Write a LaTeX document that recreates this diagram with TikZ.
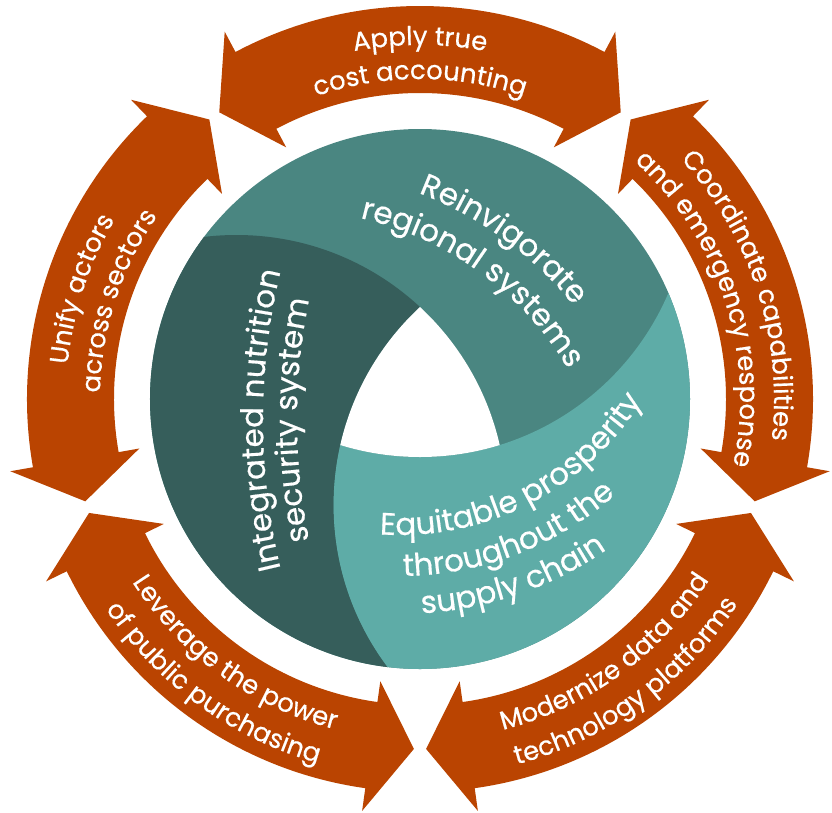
\documentclass[tikz,border=0pt]{standalone}
\usepackage{fontspec}
\setmainfont{Poppins}[FakeBold=0.5]
\usetikzlibrary{decorations.text}
\definecolor{rust}{HTML}{BA4401}
\definecolor{tdark}{HTML}{365E5B}
\definecolor{tmid}{HTML}{4A8681}
\definecolor{tlight}{HTML}{5EACA7}

\newcommand\ringarrow[1]{%
  \fill[rust] (#1+35:350) -- (#1+28:416) -- (#1+28:393)
    arc[start angle=#1+28, end angle=#1-28, radius=393]
    -- (#1-28:416) -- (#1-35:350) -- (#1-28:285) -- (#1-28:306)
    arc[start angle=#1-28, end angle=#1+28, radius=306]
    -- (#1+28:285) -- cycle;
}
% cx, cy, radius, start angle, end angle, font size, text
\newcommand\curvetext[7]{%
  \path[decorate,decoration={text along path,text align=center,
     text={|\color{white}\fontsize{#6}{#6}\selectfont|#7}}]
     ([shift={(#1,#2)}]#4:#3) arc[start angle=#4,end angle=#5,radius=#3];
}

\begin{document}
\begin{tikzpicture}[x=1pt,y=1pt]
\useasboundingbox (-420,-413) rectangle (412,399);

% ring of arrows
\ringarrow{90}
\ringarrow{18}
\ringarrow{-54}
\ringarrow{-126}
\ringarrow{162}

% central disk
\fill[tmid] (0,0) circle[radius=270];
\begin{scope}
  \clip (0,0) circle[radius=270];
  \begin{scope}
    \clip (210:212) circle[radius=270];
    \fill[tdark,even odd rule] (-500,-500) rectangle (500,500) (330:212) circle[radius=270];
  \end{scope}
  \begin{scope}
    \clip (330:212) circle[radius=270];
    \fill[tlight,even odd rule] (-500,-500) rectangle (500,500) (90:212) circle[radius=270];
  \end{scope}
  \begin{scope}
    \clip (210:212) circle[radius=270];
    \clip (90:212) circle[radius=270];
    \fill[white] (330:212) circle[radius=270];
  \end{scope}
\end{scope}

% arrow labels
\curvetext{0}{0}{354}{130}{50}{26}{Apply true}
\curvetext{0}{0}{320}{130}{50}{26}{cost accounting}
\curvetext{0}{0}{354}{58}{-22}{26}{Coordinate capabilities}
\curvetext{0}{0}{320}{58}{-22}{26}{and emergency response}
\curvetext{0}{0}{354}{202}{122}{26}{Unify actors}
\curvetext{0}{0}{320}{202}{122}{26}{across sectors}
\curvetext{0}{0}{341}{194}{274}{26}{Leverage the power}
\curvetext{0}{0}{378}{194}{274}{26}{of public purchasing}
\curvetext{0}{0}{341}{-94}{-14}{26}{Modernize data and}
\curvetext{0}{0}{378}{-94}{-14}{26}{technology platforms}

% disk labels
\curvetext{-132}{-137}{367}{94}{14}{31}{Reinvigorate}
\curvetext{-132}{-137}{326}{94}{14}{31}{regional systems}
\curvetext{480}{-21}{637}{200}{160}{31}{Integrated nutrition}
\curvetext{480}{-21}{603}{200}{160}{31}{security system}
\curvetext{-20}{149}{285}{-113}{-13}{31}{Equitable prosperity}
\curvetext{-20}{149}{326}{-119}{-19}{31}{throughout the}
\curvetext{-20}{149}{364}{-121}{-21}{31}{supply chain}
\end{tikzpicture}
\end{document}
